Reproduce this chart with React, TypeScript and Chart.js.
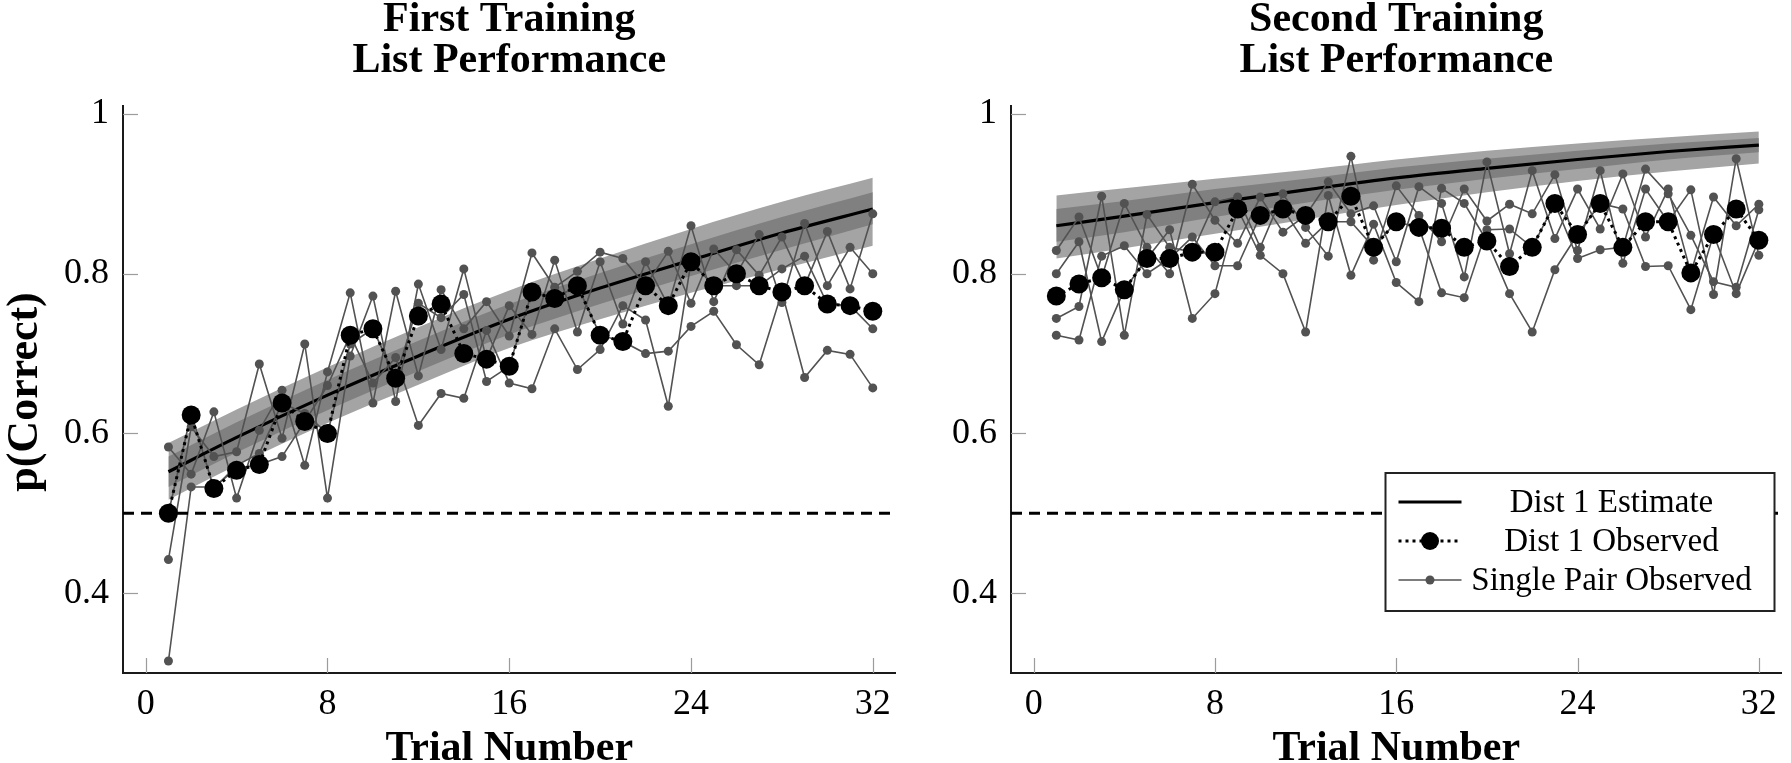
import React, { useEffect, useRef } from "react";
import { Chart, registerables } from "chart.js";

Chart.register(...registerables);

// ---------- shared axes data ----------
const trials = [1, 2, 3, 4, 5, 6, 7, 8, 9, 10, 11, 12, 13, 14, 15, 16, 17, 18, 19, 20, 21, 22, 23, 24, 25, 26, 27, 28, 29, 30, 31, 32];
const xTicks = [0, 8, 16, 24, 32];
const yTicks = [0.4, 0.6, 0.8, 1];
const yTickLabels = ["0.4", "0.6", "0.8", "1"];
const xRange = [-1, 33];
const yRange = [0.3, 1.01];
const chanceLevel = 0.5;
const bandTrials = [1, 4, 8, 12, 16, 20, 24, 28, 32];

const panelTitles = [
  ["First Training", "List Performance"],
  ["Second Training", "List Performance"],
];
const xAxisLabel = "Trial Number";
const yAxisLabel = "p(Correct)";
const legendLabels = ["Dist 1 Estimate", "Dist 1 Observed", "Single Pair Observed"];

// ---------- first panel ----------
const firstEstimate = [0.552, 0.595, 0.648, 0.697, 0.743, 0.782, 0.817, 0.851, 0.881];
const firstOuterUpper = [0.588, 0.630, 0.683, 0.733, 0.779, 0.819, 0.856, 0.890, 0.920];
const firstOuterLower = [0.517, 0.560, 0.613, 0.661, 0.707, 0.743, 0.776, 0.806, 0.835];
const firstInnerUpper = [0.571, 0.614, 0.667, 0.716, 0.762, 0.801, 0.837, 0.871, 0.902];
const firstInnerLower = [0.533, 0.576, 0.629, 0.678, 0.724, 0.762, 0.797, 0.830, 0.862];

const firstPairA = [0.583, 0.549, 0.627, 0.519, 0.604, 0.654, 0.560, 0.677, 0.776, 0.638, 0.778, 0.672, 0.780, 0.731, 0.765, 0.722, 0.826, 0.783, 0.803, 0.827, 0.819, 0.785, 0.828, 0.763, 0.831, 0.800, 0.849, 0.764, 0.863, 0.785, 0.833, 0.800];
const firstPairB = [0.442, 0.608, 0.571, 0.577, 0.687, 0.594, 0.712, 0.519, 0.697, 0.772, 0.640, 0.787, 0.705, 0.806, 0.693, 0.760, 0.724, 0.817, 0.727, 0.815, 0.737, 0.815, 0.760, 0.860, 0.765, 0.830, 0.798, 0.846, 0.785, 0.853, 0.781, 0.875];
const firstPairC = [0.315, 0.533, 0.533, 0.556, 0.561, 0.571, 0.615, 0.660, 0.723, 0.663, 0.695, 0.610, 0.650, 0.644, 0.729, 0.663, 0.656, 0.731, 0.680, 0.705, 0.760, 0.742, 0.634, 0.815, 0.785, 0.785, 0.785, 0.806, 0.822, 0.762, 0.760, 0.731];
const firstPairD = [0.500, 0.625, 0.531, 0.560, 0.575, 0.638, 0.625, 0.600, 0.712, 0.731, 0.669, 0.763, 0.745, 0.774, 0.665, 0.684, 0.777, 0.769, 0.785, 0.723, 0.715, 0.700, 0.703, 0.734, 0.753, 0.711, 0.686, 0.777, 0.670, 0.704, 0.699, 0.657];
const firstObserved = [0.500, 0.623, 0.531, 0.554, 0.561, 0.638, 0.615, 0.600, 0.723, 0.731, 0.669, 0.747, 0.762, 0.700, 0.693, 0.684, 0.777, 0.769, 0.785, 0.723, 0.715, 0.785, 0.760, 0.815, 0.785, 0.800, 0.785, 0.777, 0.785, 0.762, 0.760, 0.753];

// ---------- second panel ----------
const secondEstimate = [0.860, 0.872, 0.889, 0.905, 0.920, 0.932, 0.943, 0.953, 0.961];
const secondOuterUpper = [0.898, 0.907, 0.919, 0.930, 0.943, 0.954, 0.963, 0.971, 0.978];
const secondOuterLower = [0.819, 0.832, 0.850, 0.868, 0.886, 0.902, 0.916, 0.928, 0.938];
const secondInnerUpper = [0.881, 0.891, 0.906, 0.919, 0.933, 0.944, 0.954, 0.963, 0.970];
const secondInnerLower = [0.840, 0.852, 0.871, 0.889, 0.905, 0.919, 0.931, 0.943, 0.952];

const secondPairA = [0.829, 0.871, 0.795, 0.888, 0.833, 0.800, 0.912, 0.867, 0.838, 0.896, 0.852, 0.873, 0.915, 0.875, 0.885, 0.815, 0.909, 0.888, 0.796, 0.940, 0.825, 0.929, 0.844, 0.906, 0.856, 0.925, 0.846, 0.906, 0.801, 0.896, 0.860, 0.887];
const secondPairB = [0.744, 0.759, 0.897, 0.723, 0.874, 0.833, 0.827, 0.890, 0.896, 0.833, 0.900, 0.858, 0.822, 0.947, 0.817, 0.910, 0.873, 0.840, 0.906, 0.866, 0.887, 0.875, 0.924, 0.829, 0.929, 0.813, 0.906, 0.865, 0.905, 0.774, 0.944, 0.823];
const secondPairC = [0.800, 0.840, 0.715, 0.780, 0.819, 0.855, 0.744, 0.775, 0.881, 0.823, 0.800, 0.727, 0.898, 0.798, 0.862, 0.789, 0.765, 0.907, 0.888, 0.841, 0.775, 0.727, 0.805, 0.849, 0.888, 0.881, 0.809, 0.810, 0.755, 0.849, 0.775, 0.842];
const secondPairD = [0.723, 0.717, 0.822, 0.835, 0.800, 0.819, 0.846, 0.810, 0.810, 0.873, 0.881, 0.838, 0.865, 0.865, 0.833, 0.865, 0.858, 0.776, 0.770, 0.855, 0.856, 0.833, 0.888, 0.819, 0.830, 0.833, 0.931, 0.900, 0.848, 0.790, 0.783, 0.880];
const secondObserved = [0.772, 0.787, 0.795, 0.780, 0.819, 0.819, 0.827, 0.827, 0.881, 0.873, 0.881, 0.873, 0.865, 0.897, 0.833, 0.865, 0.858, 0.857, 0.833, 0.841, 0.809, 0.833, 0.888, 0.849, 0.888, 0.833, 0.865, 0.865, 0.801, 0.849, 0.881, 0.842];

// ---------- styles ----------
const OUTER = "#a4a4a4";
const INNER = "#808080";
const PAIR = "#525252";
const SERIF = '"Liberation Serif", "Times New Roman", serif';

type Panel = {
  title: string[];
  yLabel: string | null;
  legend: boolean;
  yAxisWidth: number;
  padRight: number;
  estimate: number[];
  outerUpper: number[];
  outerLower: number[];
  innerUpper: number[];
  innerLower: number[];
  pairs: number[][];
  observed: number[];
};

function makeDecor(p: Panel) {
  return {
    id: "panelDecor",
    beforeDatasetsDraw(chart: any) {
      const { ctx, chartArea: ca, scales } = chart;
      ctx.save();
      ctx.strokeStyle = "#9c9c9c";
      ctx.lineWidth = 1.2;
      for (const v of xTicks) {
        const px = Math.round(scales.x.getPixelForValue(v)) + 0.5;
        ctx.beginPath();
        ctx.moveTo(px, ca.bottom);
        ctx.lineTo(px, ca.bottom - 15);
        ctx.stroke();
      }
      for (const v of yTicks) {
        const py = Math.round(scales.y.getPixelForValue(v)) + 0.5;
        ctx.beginPath();
        ctx.moveTo(ca.left, py);
        ctx.lineTo(ca.left + 15, py);
        ctx.stroke();
      }
      ctx.restore();
    },
    afterDraw(chart: any) {
      const { ctx, chartArea: ca } = chart;
      const cx = (ca.left + ca.right) / 2;
      ctx.save();
      ctx.fillStyle = "#000";
      ctx.font = `bold 42px ${SERIF}`;
      ctx.textAlign = "center";
      ctx.textBaseline = "alphabetic";
      p.title.forEach((t, i) => ctx.fillText(t, cx, 31 + i * 41));
      ctx.fillText(xAxisLabel, cx, 760);
      if (p.yLabel) {
        ctx.save();
        ctx.font = `bold 44px ${SERIF}`;
        ctx.translate(37, 392);
        ctx.rotate(-Math.PI / 2);
        ctx.fillText(p.yLabel, 0, 0);
        ctx.restore();
      }
      if (p.legend) {
        const right = ca.right - 7;
        const left = ca.right - 396;
        const top = 473;
        const bottom = 611;
        ctx.fillStyle = "#fff";
        ctx.fillRect(left, top, right - left, bottom - top);
        ctx.strokeStyle = "#222";
        ctx.lineWidth = 2;
        ctx.strokeRect(left, top, right - left, bottom - top);
        const rows = [502, 541, 580];
        const s0 = left + 13;
        const s1 = left + 76;
        const sm = (s0 + s1) / 2;
        // estimate
        ctx.strokeStyle = "#000";
        ctx.lineWidth = 3;
        ctx.beginPath();
        ctx.moveTo(s0, rows[0]);
        ctx.lineTo(s1, rows[0]);
        ctx.stroke();
        // observed
        ctx.setLineDash([3, 4]);
        ctx.beginPath();
        ctx.moveTo(s0, rows[1]);
        ctx.lineTo(s1, rows[1]);
        ctx.stroke();
        ctx.setLineDash([]);
        ctx.fillStyle = "#000";
        ctx.beginPath();
        ctx.arc(sm, rows[1], 9, 0, Math.PI * 2);
        ctx.fill();
        // single pair
        ctx.strokeStyle = PAIR;
        ctx.lineWidth = 1.6;
        ctx.beginPath();
        ctx.moveTo(s0, rows[2]);
        ctx.lineTo(s1, rows[2]);
        ctx.stroke();
        ctx.fillStyle = PAIR;
        ctx.beginPath();
        ctx.arc(sm, rows[2], 4.5, 0, Math.PI * 2);
        ctx.fill();
        // labels
        ctx.fillStyle = "#000";
        ctx.font = `33px ${SERIF}`;
        ctx.textAlign = "center";
        ctx.textBaseline = "middle";
        legendLabels.forEach((t, i) => ctx.fillText(t, left + 226, rows[i] + 1));
      }
      ctx.restore();
    },
  };
}

function buildConfig(p: Panel): any {
  const pts = (ys: number[]) => ys.map((y, i) => ({ x: trials[i], y }));
  const band = (ys: number[]) => ys.map((y, i) => ({ x: bandTrials[i], y }));
  const bandStyle = { borderWidth: 0, pointRadius: 0, cubicInterpolationMode: "monotone" };
  const datasets: any[] = [
    { label: "outerUpper", data: band(p.outerUpper), fill: "+1", backgroundColor: OUTER, order: 10, ...bandStyle },
    { label: "outerLower", data: band(p.outerLower), fill: false, order: 10, ...bandStyle },
    { label: "innerUpper", data: band(p.innerUpper), fill: "+1", backgroundColor: INNER, order: 9, ...bandStyle },
    { label: "innerLower", data: band(p.innerLower), fill: false, order: 9, ...bandStyle },
    {
      label: legendLabels[0],
      data: band(p.estimate),
      borderColor: "#000",
      borderWidth: 3.2,
      pointRadius: 0,
      cubicInterpolationMode: "monotone",
      fill: false,
      order: 6,
    },
    ...p.pairs.map((s, i) => ({
      label: legendLabels[2] + " " + (i + 1),
      data: pts(s),
      borderColor: PAIR,
      borderWidth: 1.6,
      pointRadius: 4.5,
      pointBackgroundColor: PAIR,
      pointBorderWidth: 0,
      fill: false,
      order: 5,
    })),
    {
      label: "chance",
      data: [
        { x: xRange[0], y: chanceLevel },
        { x: xRange[1], y: chanceLevel },
      ],
      borderColor: "#000",
      borderWidth: 3,
      borderDash: [11, 7],
      pointRadius: 0,
      fill: false,
      order: 3,
    },
    {
      label: legendLabels[1],
      data: pts(p.observed),
      borderColor: "#000",
      borderWidth: 3,
      borderDash: [3, 4],
      pointRadius: 9.5,
      pointBackgroundColor: "#000",
      pointBorderWidth: 0,
      fill: false,
      order: 1,
    },
  ];
  return {
    type: "line",
    data: { datasets },
    plugins: [makeDecor(p)],
    options: {
      animation: false,
      responsive: false,
      devicePixelRatio: 1,
      events: [],
      layout: { padding: { left: 0, right: p.padRight, top: 106, bottom: 0 } },
      plugins: { legend: { display: false }, tooltip: { enabled: false }, title: { display: false } },
      scales: {
        x: {
          type: "linear",
          min: xRange[0],
          max: xRange[1],
          afterBuildTicks: (scale: any) => {
            scale.ticks = xTicks.map((v) => ({ value: v }));
          },
          afterFit: (scale: any) => {
            scale.height = 90;
          },
          grid: { display: true, drawOnChartArea: false, drawTicks: false },
          border: { display: true, color: "#1a1a1a", width: 2 },
          ticks: {
            autoSkip: false,
            maxRotation: 0,
            padding: 10,
            color: "#000",
            font: { family: SERIF, size: 36 },
            callback: (v: any) => String(v),
          },
        },
        y: {
          type: "linear",
          min: yRange[0],
          max: yRange[1],
          afterBuildTicks: (scale: any) => {
            scale.ticks = yTicks.map((v) => ({ value: v }));
          },
          afterFit: (scale: any) => {
            scale.width = p.yAxisWidth;
          },
          grid: { display: true, drawOnChartArea: false, drawTicks: false },
          border: { display: true, color: "#1a1a1a", width: 2 },
          ticks: {
            autoSkip: false,
            padding: 14,
            color: "#000",
            font: { family: SERIF, size: 36 },
            callback: (v: any) => {
              const i = yTicks.findIndex((t) => Math.abs(t - v) < 1e-9);
              return i >= 0 ? yTickLabels[i] : "";
            },
          },
        },
      },
    },
  };
}

const firstPanel: Panel = {
  title: panelTitles[0],
  yLabel: yAxisLabel,
  legend: false,
  yAxisWidth: 123,
  padRight: 5,
  estimate: firstEstimate,
  outerUpper: firstOuterUpper,
  outerLower: firstOuterLower,
  innerUpper: firstInnerUpper,
  innerLower: firstInnerLower,
  pairs: [firstPairA, firstPairB, firstPairC, firstPairD],
  observed: firstObserved,
};

const secondPanel: Panel = {
  title: panelTitles[1],
  yLabel: null,
  legend: true,
  yAxisWidth: 106,
  padRight: 3,
  estimate: secondEstimate,
  outerUpper: secondOuterUpper,
  outerLower: secondOuterLower,
  innerUpper: secondInnerUpper,
  innerLower: secondInnerLower,
  pairs: [secondPairA, secondPairB, secondPairC, secondPairD],
  observed: secondObserved,
};

export default function App() {
  const leftRef = useRef<HTMLCanvasElement>(null);
  const rightRef = useRef<HTMLCanvasElement>(null);

  useEffect(() => {
    const c1 = new Chart(leftRef.current as HTMLCanvasElement, buildConfig(firstPanel));
    const c2 = new Chart(rightRef.current as HTMLCanvasElement, buildConfig(secondPanel));
    return () => {
      c1.destroy();
      c2.destroy();
    };
  }, []);

  return (
    <div style={{ position: "absolute", left: 0, top: 0, width: 1791, height: 763, background: "#fff", overflow: "hidden" }}>
      <canvas ref={leftRef} width={905} height={763} style={{ position: "absolute", left: 0, top: 0, width: 905, height: 763 }} />
      <canvas ref={rightRef} width={886} height={763} style={{ position: "absolute", left: 905, top: 0, width: 886, height: 763 }} />
    </div>
  );
}
